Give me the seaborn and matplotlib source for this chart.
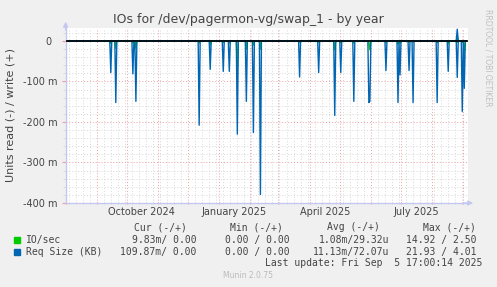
import matplotlib
matplotlib.use("Agg")
import matplotlib.pyplot as plt
import matplotlib.dates as mdates
import seaborn as sns
import pandas as pd

# spikes (values in milli-units, 0 elsewhere)
spike_days = ["2024-09-15", "2024-09-20", "2024-10-07", "2024-10-10", "2024-12-12",
              "2024-12-23", "2025-01-05", "2025-01-11", "2025-01-19", "2025-01-28",
              "2025-02-04", "2025-02-11", "2025-03-22", "2025-04-10", "2025-04-26",
              "2025-05-02", "2025-05-15", "2025-05-30", "2025-05-31", "2025-06-16",
              "2025-06-28", "2025-06-30", "2025-07-09", "2025-07-13", "2025-08-06",
              "2025-08-17", "2025-08-26", "2025-08-31", "2025-09-02"]
req_read = [78, 152, 81, 149, 208, 70, 75, 75, 230, 149, 226, 379, 89, 78, 184,
            78, 149, 152, 149, 73, 152, 84, 73, 152, 152, 75, 90, 174, 117]
io_read = [6, 18, 4, 18, 5, 10, 4, 5, 71, 20, 10, 20, 3, 3, 22,
           5, 5, 3, 22, 4, 8, 6, 3, 3, 4, 7, 3, 3, 29]
req_write = [0] * 26 + [29, 0, 0]
io_write = [0] * 26 + [10, 0, 0]

month_labels = ["October 2024", "January 2025", "April 2025", "July 2025"]
month_label_days = ["2024-10-16", "2025-01-16", "2025-04-16", "2025-07-16"]
yticks = [-0.4, -0.3, -0.2, -0.1, 0.0]
ytick_labels = ["-400 m", "-300 m", "-200 m", "-100 m", "0  "]

legend_rows = [
    ("IO/sec", "#00cc00", ["9.83m/ 0.00", "0.00 / 0.00", "1.08m/29.32u", "14.92 / 2.50"]),
    ("Req Size (KB)", "#0066b3", ["109.87m/ 0.00", "0.00 / 0.00", "11.13m/72.07u", "21.93 / 4.01"]),
]
headers = ["Cur (-/+)", "Min (-/+)", "Avg (-/+)", "Max (-/+)"]

days = pd.date_range("2024-08-01", "2025-09-04", freq="D")
spikes = pd.DataFrame({"req_read": req_read, "io_read": io_read,
                       "req_write": req_write, "io_write": io_write},
                      index=pd.to_datetime(spike_days))
df = spikes.reindex(days, fill_value=0) / 1000.0

W, H = 497, 287
fig = plt.figure(figsize=(W / 100, H / 100), dpi=100, facecolor="#f0f0f0")
x0, x1, ytop, ybot = 65.6, 468, 28, 203
ax = fig.add_axes([x0 / W, (H - ybot) / H, (x1 - x0) / W, (ybot - ytop) / H])
ax.set_facecolor("white")

txt = "#444444"
minor_c = "#d8d8d8"
major_c = "#eea0a0"
dots = (0, (1, 2))

sns.lineplot(x=df.index, y=-df["io_read"], color="#00cc00", lw=1, ax=ax, estimator=None)
sns.lineplot(x=df.index, y=df["io_write"], color="#00cc00", lw=1, ax=ax, estimator=None)
sns.lineplot(x=df.index, y=-df["req_read"], color="#0066b3", lw=1, ax=ax, estimator=None)
sns.lineplot(x=df.index, y=df["req_write"], color="#0066b3", lw=1, ax=ax, estimator=None)
ax.axhline(0, color="black", lw=1.2, zorder=5)
ax.set_xlabel("")
ax.set_ylabel("")

ax.set_xlim(pd.Timestamp("2024-08-01"), pd.Timestamp("2025-09-05 17:00"))
ax.set_ylim(-0.4, 0.032)

ax.xaxis.set_major_locator(mdates.MonthLocator())
ax.xaxis.set_minor_locator(mdates.WeekdayLocator(byweekday=mdates.SU))
ax.xaxis.set_major_formatter(plt.NullFormatter())
ax.set_yticks(yticks)
ax.set_yticklabels(ytick_labels)
ax.set_yticks([-0.38 + 0.02 * i for i in range(21)], minor=True)

ax.grid(which="minor", color=minor_c, lw=0.7, ls=dots, zorder=0)
ax.grid(which="major", color=major_c, lw=0.7, ls=dots, zorder=0)
ax.set_axisbelow(True)
ax.tick_params(axis="y", which="major", length=3, color=major_c, pad=2.5,
               labelsize=7, labelcolor=txt)
ax.tick_params(axis="y", which="minor", length=2, color=minor_c)
ax.tick_params(axis="x", which="major", length=2, color=major_c, direction="inout")
ax.tick_params(axis="x", which="minor", length=1.5, color=minor_c, direction="inout")

for lab, d in zip(month_labels, month_label_days):
    ax.text(pd.Timestamp(d), -0.05, lab, transform=ax.get_xaxis_transform(),
            ha="center", va="center", fontsize=7, color=txt)

for s in ["top", "right"]:
    ax.spines[s].set_visible(False)
axis_c = "#c4c8f0"
for s in ["left", "bottom"]:
    ax.spines[s].set_color(axis_c)
    ax.spines[s].set_linewidth(1)
ax.annotate("", xy=(0, 1.036), xytext=(0, 0.99), xycoords="axes fraction",
            arrowprops=dict(arrowstyle="-|>", color=axis_c, lw=1, shrinkA=0, shrinkB=0,
                            mutation_scale=7))
ax.annotate("", xy=(1.013, 0), xytext=(0.99, 0), xycoords="axes fraction",
            arrowprops=dict(arrowstyle="-|>", color=axis_c, lw=1, shrinkA=0, shrinkB=0,
                            mutation_scale=7))


def ftext(x, y, s, **kw):
    fig.text(x / W, 1 - y / H, s, **kw)


ftext(248, 19.5, "IOs for /dev/pagermon-vg/swap_1 - by year", ha="center", va="center",
      fontsize=9, color=txt)
ftext(10.5, 115, "Units read (-) / write (+)", ha="center", va="center", rotation=90,
      fontsize=8, color=txt)
ftext(488, 58, "RRDTOOL / TOBI OETIKER", ha="center", va="center", rotation=270,
      fontsize=5.5, color="#c0c0c0")

mono = "DejaVu Sans Mono"
for h, cx in zip(headers, [160.8, 256.7, 353.3, 449.3]):
    ftext(cx, 227.3, h, ha="center", va="center", fontsize=7, family=mono, color=txt)
for (name, col, vals), y in zip(legend_rows, [240, 251.7]):
    fig.patches.append(plt.Rectangle((14 / W, 1 - (y + 3) / H), 6 / W, 6 / H,
                                     transform=fig.transFigure, color=col))
    ftext(26, y, name, ha="left", va="center", fontsize=7, family=mono, color=txt)
    for v, rx in zip(vals, [196.7, 290, 389.3, 476.7]):
        ftext(rx, y, v, ha="right", va="center", fontsize=7, family=mono, color=txt)
ftext(482.7, 263.3, "Last update: Fri Sep  5 17:00:14 2025", ha="right", va="center",
      fontsize=7, family=mono, color=txt)
ftext(248, 276, "Munin 2.0.75", ha="center", va="center", fontsize=5.5, color="#bbbbbb")

fig.savefig("out.png", dpi=100, facecolor=fig.get_facecolor())
